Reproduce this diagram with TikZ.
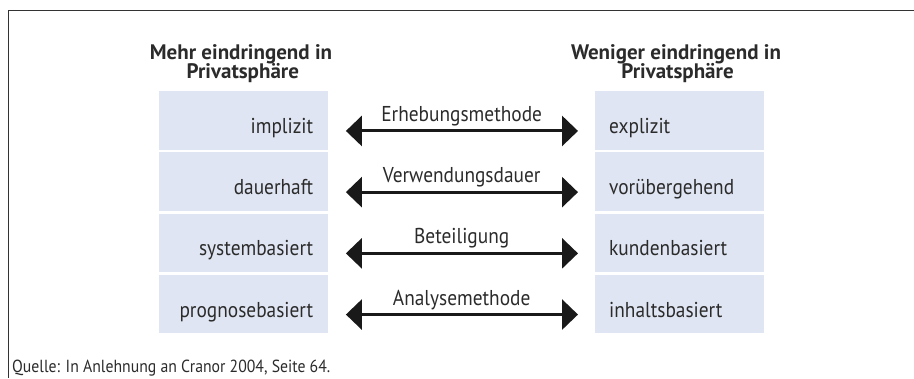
\documentclass[tikz,border=0pt]{standalone}
\usepackage{fontspec}
\setmainfont[FakeStretch=0.9]{PT Sans}
\newfontfamily\headfont{PT Sans}
\usetikzlibrary{arrows.meta}
\definecolor{boxfill}{HTML}{DFE5F2}
\definecolor{txt}{HTML}{2B2B2B}
\definecolor{framec}{HTML}{333333}
\begin{document}
\begin{tikzpicture}[x=1pt,y=-1pt,
  cell/.style={fill=boxfill, draw=none, minimum width=169pt, minimum height=58.5pt, inner sep=0pt, anchor=north west},
  celltext/.style={font=\fontsize{21.5}{24}\selectfont, text=txt, inner sep=0pt},
  head/.style={font=\headfont\fontsize{21}{22}\selectfont\bfseries, text=txt, inner sep=0pt, anchor=base},
  dimlabel/.style={font=\fontsize{21.5}{24}\selectfont, text=txt, inner sep=0pt, anchor=base, yshift=9.5pt},
  twoway/.style={line width=3pt, draw=black!90, {Triangle[length=16pt,width=30pt]}-{Triangle[length=16pt,width=30pt]}, shorten <=17.5pt, shorten >=17pt},
  frameline/.style={line width=1.5pt, draw=framec},
  source/.style={font=\fontsize{17.5}{20}\selectfont, text=txt, inner sep=0pt, anchor=base west}
]
\useasboundingbox (0,0) rectangle (914,378);
\draw[frameline] (914,10.5) -- (8.5,10.5) -- (8.5,378);

\node[head] (hl1) at (241,59.3) {Mehr eindringend in};
\node[head] (hl2) at (242.8,78.5) {Privatsphäre};
\node[head] (hr1) at (676,59.3) {Weniger eindringend in};
\node[head] (hr2) at (677.5,78.5) {Privatsphäre};

\foreach \i/\lt/\rt/\dimname in {1/implizit/explizit/Erhebungsmethode, 2/dauerhaft/vorübergehend/Verwendungsdauer, 3/systembasiert/kundenbasiert/Beteiligung, 4/prognosebasiert/inhaltsbasiert/Analysemethode} {
  \pgfmathsetmacro\rowtop{91+61.2*(\i-1)}
  \node[cell] (l\i) at (159,\rowtop) {};
  \node[cell] (r\i) at (595,\rowtop) {};
  \node[celltext, anchor=base east] (lt\i) at ([xshift=-15pt,yshift=-13pt]l\i.east) {\lt};
  \node[celltext, anchor=base west] (rt\i) at ([xshift=14pt,yshift=-13pt]r\i.west) {\rt};
  \draw[twoway] ([yshift=-10.5pt]l\i.east) -- node[dimlabel] (m\i) {\dimname} ([yshift=-10.5pt]r\i.west);
}

\node[source] (src) at (12,372.5) {Quelle: In Anlehnung an Cranor 2004, Seite 64.};
\end{tikzpicture}
\end{document}
